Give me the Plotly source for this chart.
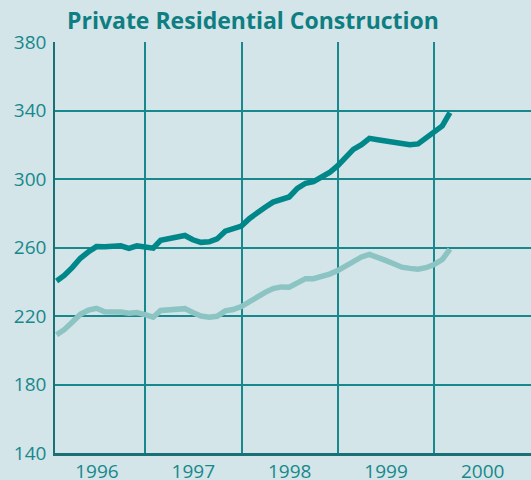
import pandas as pd
import plotly.graph_objects as go

# Monthly data, Jan 1996 - Feb 2000 (plotted at month end)
months = pd.date_range("1996-01-31", periods=50, freq="ME")

dark_series = [240.5, 243.7, 248.4, 253.7, 257.5, 260.5, 260.4, 261.0, 261.0, 259.5,
               261.0, 260.3, 259.6, 264.2, 265.0, 265.4, 267.0, 264.5, 263.0, 263.3,
               265.0, 269.5, 271.0, 272.5, 277.0, 280.5, 283.5, 286.5, 288.1, 289.5,
               294.5, 297.5, 298.5, 301.3, 303.8, 307.8, 313.0, 317.3, 320.0, 323.7,
               322.9, 322.0, 321.3, 320.7, 320.0, 320.5, 324.2, 327.5, 331.0, 338.7]

light_series = [209.0, 212.0, 216.5, 221.0, 223.5, 224.5, 222.5, 222.5, 222.3, 221.6,
                222.0, 220.8, 219.3, 223.2, 223.5, 223.5, 224.3, 222.0, 220.0, 219.3,
                219.8, 223.0, 223.8, 225.5, 228.5, 231.5, 233.8, 236.0, 237.0, 236.8,
                239.0, 241.8, 241.8, 243.0, 244.5, 246.5, 249.5, 252.2, 254.5, 256.0,
                254.5, 252.5, 250.5, 248.5, 247.8, 247.3, 248.2, 250.0, 253.0, 259.0]

year_labels = ["1996", "1997", "1998", "1999", "2000"]
year_label_pos = [f"{y}-07-02" for y in year_labels]
y_ticks = [140, 180, 220, 260, 300, 340, 380]

bg = "#d3e5e8"
teal = "#17888c"
dark_line = "#00878a"
light_line = "#8cc4c4"

fig = go.Figure()
fig.add_trace(go.Scatter(x=months, y=light_series, mode="lines",
                         line=dict(color=light_line, width=5.5), hoverinfo="skip"))
fig.add_trace(go.Scatter(x=months, y=dark_series, mode="lines",
                         line=dict(color=dark_line, width=5.5), hoverinfo="skip"))

fig.update_layout(
    width=531, height=480,
    margin=dict(l=55, r=0, t=42, b=27),
    paper_bgcolor=bg, plot_bgcolor=bg,
    showlegend=False,
    font=dict(family="Open Sans", color=teal),
    title=dict(text="<b>Private Residential Construction</b>",
               font=dict(family="Open Sans", size=23, color="#0f7e82"),
               xref="container", yref="container",
               x=67/531, xanchor="left", y=1-21/480, yanchor="middle"),
)

fig.update_xaxes(
    type="date",
    range=["1996-01-25", "2001-01-01"],
    tickmode="array", tickvals=year_label_pos, ticktext=year_labels,
    ticks="", showgrid=False, automargin=False,
    tickfont=dict(size=19, color=teal),
    ticklabelstandoff=-1,
    minor=dict(tickmode="linear", tick0="1996-01-01", dtick="M12",
               showgrid=True, gridcolor=teal, gridwidth=1.6, ticks=""),
    showline=True, linecolor="#1a7175", linewidth=2.5,
    zeroline=False,
)

fig.update_yaxes(
    range=[140, 380],
    tickmode="array", tickvals=y_ticks, automargin=False,
    ticks="", showgrid=True, gridcolor=teal, gridwidth=1.6,
    tickfont=dict(size=19, color=teal),
    ticklabelstandoff=3,
    showline=True, linecolor="#1a7175", linewidth=1.5,
    zeroline=False,
)

fig.write_html("out.html",
               config={"displayModeBar": False},
               post_script="document.body.style.margin='0';document.body.style.overflow='hidden';")
